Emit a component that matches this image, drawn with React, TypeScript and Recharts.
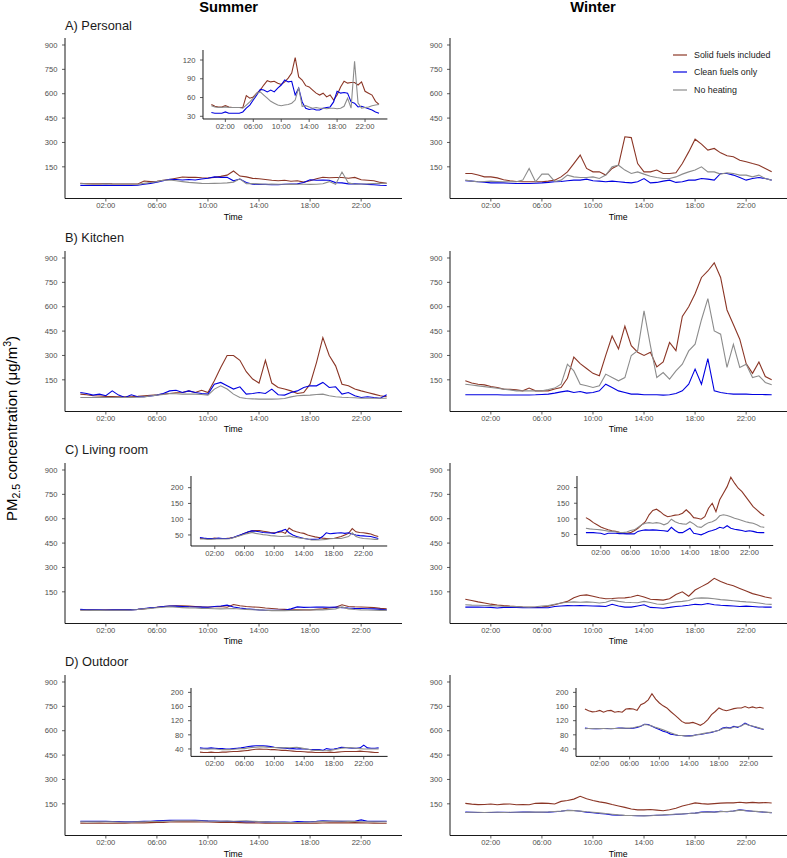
import { LineChart, Line, XAxis, YAxis, Legend } from 'recharts'

const FONT = '"Liberation Sans", Arial, Helvetica, sans-serif'

// half-hourly time points (hours since midnight)
const HOURS = [
  0, 0.5, 1, 1.5, 2, 2.5, 3, 3.5, 4, 4.5, 5, 5.5, 6, 6.5, 7, 7.5, 8, 8.5, 9, 9.5, 10, 10.5, 11, 11.5,
  12, 12.5, 13, 13.5, 14, 14.5, 15, 15.5, 16, 16.5, 17, 17.5, 18, 18.5, 19, 19.5, 20, 20.5, 21, 21.5,
  22, 22.5, 23, 23.5, 24,
]
const TIME_TICKS = [2, 6, 10, 14, 18, 22]
const MAIN_TICKS = [150, 300, 450, 600, 750, 900]
const INSET_TICKS_A = [30, 60, 90, 120]
const INSET_TICKS_C = [50, 100, 150, 200]
const INSET_TICKS_D = [40, 80, 120, 160, 200]

// A) Personal
const A_SUM_SOLID = [
  49, 46, 45, 45, 47, 45, 44, 44, 44, 44, 63, 59, 61, 67, 72, 80, 87, 85, 86, 83, 81, 85, 91, 99,
  124, 93, 88, 79, 77, 72, 67, 64, 67, 61, 64, 56, 64, 77, 86, 83, 84, 84, 80, 85, 70, 67, 64, 54, 49,
]
const A_SUM_CLEAN = [
  36, 35, 35, 35, 37, 35, 35, 35, 35, 37, 43, 48, 56, 64, 73, 72, 69, 72, 69, 75, 80, 88, 85, 86,
  64, 75, 53, 43, 41, 42, 40, 40, 43, 44, 45, 53, 70, 67, 68, 67, 53, 51, 45, 46, 44, 42, 40, 37, 35,
]
const A_SUM_NONE = [
  47, 45, 44, 44, 45, 44, 44, 44, 44, 43, 48, 53, 59, 67, 69, 64, 59, 54, 51, 48, 47, 48, 49, 51,
  56, 76, 46, 47, 45, 43, 44, 43, 43, 42, 43, 43, 42, 43, 46, 59, 43, 118, 51, 43, 44, 45, 47, 48, 49,
]
const A_WIN_SOLID = [
  109, 109, 100, 88, 88, 82, 70, 64, 60, 58, 58, 58, 58, 62, 68, 88, 119, 170, 222, 140, 119, 119, 99, 140,
  160, 335, 330, 170, 119, 119, 130, 109, 109, 113, 170, 242, 320, 290, 253, 263, 236, 218, 212, 191, 181, 170, 160, 140, 119,
]
const A_WIN_CLEAN = [
  64, 62, 58, 56, 51, 51, 51, 49, 47, 47, 47, 49, 51, 54, 58, 60, 64, 68, 68, 74, 64, 62, 58, 62,
  58, 54, 51, 58, 78, 51, 54, 62, 68, 54, 58, 68, 68, 78, 74, 68, 109, 109, 99, 84, 68, 78, 84, 78, 68,
]
const A_WIN_NONE = [
  68, 62, 58, 60, 62, 60, 58, 58, 58, 68, 140, 58, 105, 105, 60, 68, 99, 88, 84, 84, 88, 78, 99, 150,
  160, 130, 109, 119, 105, 92, 84, 78, 78, 88, 105, 119, 130, 150, 119, 119, 105, 113, 109, 99, 99, 88, 99, 78, 68,
]

// B) Kitchen
const B_SUM_SOLID = [
  62, 58, 52, 50, 48, 47, 46, 46, 46, 48, 52, 55, 58, 62, 66, 70, 72, 82, 72, 86, 72, 144, 226, 300,
  300, 270, 200, 155, 130, 270, 130, 103, 93, 82, 66, 72, 123, 256, 410, 300, 236, 123, 113, 93, 82, 72, 62, 52, 46,
]
const B_SUM_CLEAN = [
  72, 66, 56, 62, 52, 82, 56, 41, 58, 46, 46, 50, 56, 66, 82, 86, 72, 82, 72, 66, 62, 123, 134, 113,
  93, 107, 62, 66, 72, 66, 93, 58, 56, 72, 82, 103, 113, 113, 134, 103, 107, 62, 72, 52, 41, 46, 41, 37, 58,
]
const B_SUM_NONE = [
  41, 41, 41, 41, 41, 41, 41, 41, 41, 43, 45, 50, 56, 60, 66, 64, 62, 62, 62, 60, 56, 93, 113, 93,
  62, 41, 35, 33, 31, 31, 31, 32, 35, 45, 52, 54, 56, 60, 62, 52, 46, 43, 41, 40, 37, 37, 37, 37, 37,
]
const B_WIN_SOLID = [
  144, 130, 123, 119, 109, 103, 93, 91, 88, 82, 99, 82, 82, 82, 93, 103, 160, 290, 250, 220, 190, 175, 300, 420,
  340, 480, 360, 320, 300, 320, 230, 260, 380, 330, 540, 600, 680, 780, 820, 870, 780, 580, 490, 400, 250, 190, 260, 170, 150,
]
const B_WIN_CLEAN = [
  58, 58, 58, 58, 58, 58, 57, 57, 57, 57, 57, 58, 60, 62, 68, 76, 82, 72, 78, 68, 72, 82, 123, 103,
  82, 72, 62, 62, 58, 58, 58, 56, 58, 66, 82, 123, 216, 123, 280, 82, 72, 66, 62, 62, 62, 60, 60, 59, 58,
]
const B_WIN_NONE = [
  123, 118, 113, 108, 103, 98, 93, 88, 82, 82, 82, 82, 82, 90, 99, 123, 246, 205, 123, 113, 103, 113, 185, 164,
  144, 164, 300, 330, 574, 360, 164, 195, 154, 205, 246, 328, 369, 520, 650, 451, 431, 226, 369, 226, 246, 164, 175, 134, 120,
]

// C) Living room
const C_SUM_SOLID = [
  39, 39, 39, 38, 40, 39, 39, 39, 40, 42, 45, 50, 55, 59, 63, 64, 64, 62, 60, 58, 57, 58, 60, 55,
  72, 64, 60, 57, 55, 50, 47, 44, 42, 40, 39, 39, 39, 42, 45, 50, 55, 70, 60, 58, 57, 55, 53, 48, 45,
]
const C_SUM_CLEAN = [
  42, 40, 39, 39, 38, 40, 39, 39, 39, 42, 47, 51, 55, 60, 63, 62, 60, 58, 57, 56, 55, 60, 63, 68,
  57, 50, 45, 42, 39, 37, 36, 36, 37, 45, 57, 54, 55, 56, 57, 55, 57, 53, 50, 48, 47, 46, 45, 42, 39,
]
const C_SUM_NONE = [
  37, 37, 36, 36, 37, 37, 37, 37, 38, 41, 45, 48, 52, 55, 58, 55, 53, 51, 50, 48, 47, 46, 45, 46,
  47, 44, 42, 40, 39, 37, 34, 34, 34, 35, 36, 38, 39, 39, 39, 42, 45, 57, 45, 41, 39, 38, 37, 36, 36,
]
const C_WIN_SOLID = [
  104, 97, 88, 81, 74, 69, 65, 62, 60, 57, 55, 54, 56, 62, 70, 81, 91, 113, 127, 131, 123, 113, 107, 109,
  112, 113, 118, 129, 118, 104, 102, 99, 107, 134, 150, 123, 161, 182, 203, 233, 214, 198, 187, 171, 155, 139, 129, 118, 110,
]
const C_WIN_CLEAN = [
  56, 56, 56, 55, 54, 50, 54, 54, 54, 53, 53, 52, 52, 52, 60, 63, 65, 64, 65, 64, 63, 62, 60, 73,
  63, 56, 56, 63, 70, 54, 52, 49, 54, 60, 63, 67, 73, 70, 78, 70, 67, 65, 63, 60, 62, 60, 57, 56, 56,
]
const C_WIN_NONE = [
  70, 68, 67, 66, 65, 63, 61, 60, 59, 57, 56, 58, 63, 65, 73, 81, 86, 88, 86, 88, 86, 81, 86, 99,
  91, 86, 84, 83, 91, 84, 75, 73, 81, 88, 91, 97, 110, 113, 111, 107, 102, 99, 95, 91, 88, 86, 81, 75, 73,
]

// D) Outdoor
const D_SUM_SOLID = [
  31, 30, 30, 31, 30, 30, 31, 31, 32, 33, 33, 34, 35, 36, 38, 39, 40, 39, 39, 38, 38, 37, 36, 36,
  35, 34, 33, 33, 32, 31, 31, 30, 30, 30, 30, 31, 30, 31, 32, 33, 33, 33, 33, 34, 33, 32, 31, 30, 30,
]
const D_SUM_CLEAN = [
  43, 42, 42, 43, 42, 41, 41, 40, 40, 41, 42, 43, 45, 47, 48, 49, 49, 49, 48, 47, 45, 44, 43, 42,
  41, 41, 40, 41, 40, 39, 38, 38, 38, 36, 41, 39, 40, 42, 45, 44, 43, 42, 42, 43, 51, 43, 42, 42, 43,
]
const D_SUM_NONE = [
  40, 40, 39, 40, 40, 39, 38, 38, 38, 39, 40, 41, 41, 43, 44, 45, 46, 46, 45, 44, 44, 43, 43, 44,
  43, 44, 45, 43, 41, 39, 37, 36, 36, 35, 35, 36, 38, 40, 42, 43, 44, 43, 42, 41, 40, 40, 40, 40, 40,
]
const D_WIN_SOLID = [
  153, 148, 145, 146, 149, 144, 148, 149, 144, 146, 144, 153, 154, 153, 149, 165, 170, 179, 196, 181, 170, 162, 156, 146,
  137, 128, 118, 113, 113, 115, 111, 107, 113, 123, 137, 146, 156, 151, 148, 151, 154, 156, 156, 160, 156, 159, 156, 158, 155,
]
const D_WIN_CLEAN = [
  99, 98, 97, 97, 97, 98, 98, 97, 98, 99, 99, 98, 98, 99, 101, 104, 110, 109, 104, 99, 95, 90, 87, 82,
  80, 78, 78, 77, 77, 78, 80, 81, 83, 85, 87, 90, 93, 99, 101, 99, 104, 101, 106, 113, 108, 104, 101, 98, 95,
]
const D_WIN_NONE = [
  97, 98, 98, 97, 98, 98, 97, 98, 98, 98, 99, 99, 99, 100, 103, 105, 109, 108, 105, 101, 98, 94, 90, 86,
  82, 79, 78, 77, 76, 77, 80, 82, 84, 86, 88, 90, 93, 97, 100, 98, 102, 103, 105, 111, 107, 105, 102, 99, 96,
]

const SERIES = [
  { key: 'solid', name: 'Solid fuels included', color: '#8B3626' },
  { key: 'clean', name: 'Clean fuels only', color: '#0000E0' },
  { key: 'none', name: 'No heating', color: '#8C8C8C' },
]

const rows = (solid: number[], clean: number[], none: number[]) =>
  HOURS.map((t, i) => ({ t, solid: solid[i], clean: clean[i], none: none[i] }))

const fmtTime = (h: number) => `${h < 10 ? '0' : ''}${h}:00`

// layout (page pixels)
const COL_X = [64.7, 449.7]
const ROW_Y = [38.3, 250.6, 462.9, 675.2]
const PLOT_W = 337
const PLOT_H = 160.5
const MAIN_DOMAIN: [number, number] = [-45, 943]

function LegendBox({ payload }: any) {
  // keep the series order (Recharts sorts legend items by name)
  const items = [...(payload || [])].sort(
    (a: any, b: any) =>
      SERIES.findIndex((s) => s.name === a.value) - SERIES.findIndex((s) => s.name === b.value)
  )
  return (
    <div style={{ fontFamily: FONT, fontSize: 8.9, color: '#1a1a1a' }}>
      {items.map((p: any) => (
        <div key={p.value} style={{ display: 'flex', alignItems: 'center', height: 17.3, whiteSpace: 'nowrap' }}>
          <svg width={14} height={4} style={{ marginRight: 7 }}>
            <line x1={0} x2={14} y1={2} y2={2} stroke={p.color} strokeWidth={1.2} />
          </svg>
          <span>{p.value}</span>
        </div>
      ))}
    </div>
  )
}

interface PanelProps {
  x: number
  y: number
  w: number
  h: number
  data: any[]
  domain: [number, number]
  ticks: number[]
  legend?: boolean
}

function Panel({ x, y, w, h, data, domain, ticks, legend }: PanelProps) {
  const YW = 40
  const TOP = 4
  const XH = 16
  const RIGHT = 2
  const tickStyle = { fontSize: 7.6, fill: '#4d4d4d', fontFamily: FONT }
  return (
    <div style={{ position: 'absolute', left: x - YW, top: y - TOP }}>
      <LineChart
        width={w + YW + RIGHT}
        height={h + TOP + XH}
        data={data}
        margin={{ top: TOP, right: RIGHT, bottom: 0, left: 0 }}
      >
        <XAxis
          type="number"
          dataKey="t"
          domain={[-1.2, 25.2]}
          ticks={TIME_TICKS}
          interval={0}
          tickFormatter={fmtTime}
          height={XH}
          tick={tickStyle}
          tickSize={3}
          tickMargin={1.5}
          axisLine={{ stroke: '#000', strokeWidth: 0.9 }}
          tickLine={{ stroke: '#333', strokeWidth: 0.8 }}
        />
        <YAxis
          type="number"
          domain={domain}
          ticks={ticks}
          interval={0}
          allowDataOverflow
          width={YW}
          tick={tickStyle}
          tickSize={3}
          tickMargin={4.5}
          axisLine={{ stroke: '#000', strokeWidth: 0.9 }}
          tickLine={{ stroke: '#333', strokeWidth: 0.8 }}
        />
        {legend && (
          <Legend
            layout="vertical"
            align="center"
            verticalAlign="middle"
            content={(p: any) => <LegendBox payload={p.payload} />}
            wrapperStyle={{ left: 263.3, top: 12, width: 'auto', height: 'auto' }}
          />
        )}
        {SERIES.map((s) => (
          <Line
            key={s.key}
            type="linear"
            dataKey={s.key}
            name={s.name}
            stroke={s.color}
            strokeWidth={1.1}
            dot={false}
            activeDot={false}
            isAnimationActive={false}
          />
        ))}
      </LineChart>
    </div>
  )
}

export default function App() {
  const aSum = rows(A_SUM_SOLID, A_SUM_CLEAN, A_SUM_NONE)
  const aWin = rows(A_WIN_SOLID, A_WIN_CLEAN, A_WIN_NONE)
  const bSum = rows(B_SUM_SOLID, B_SUM_CLEAN, B_SUM_NONE)
  const bWin = rows(B_WIN_SOLID, B_WIN_CLEAN, B_WIN_NONE)
  const cSum = rows(C_SUM_SOLID, C_SUM_CLEAN, C_SUM_NONE)
  const cWin = rows(C_WIN_SOLID, C_WIN_CLEAN, C_WIN_NONE)
  const dSum = rows(D_SUM_SOLID, D_SUM_CLEAN, D_SUM_NONE)
  const dWin = rows(D_WIN_SOLID, D_WIN_CLEAN, D_WIN_NONE)

  const titles = ['A) Personal', 'B) Kitchen', 'C) Living room', 'D) Outdoor']

  return (
    <div
      style={{
        position: 'absolute',
        left: 0,
        top: 0,
        width: 787,
        height: 858,
        overflow: 'hidden',
        background: '#fff',
        fontFamily: FONT,
      }}
    >
      <svg width={787} height={858} style={{ position: 'absolute', left: 0, top: 0 }}>
        <text x={228.7} y={11.5} textAnchor="middle" fontSize={14.7} fontWeight="bold" fill="#000" fontFamily={FONT}>
          Summer
        </text>
        <text x={593} y={11.5} textAnchor="middle" fontSize={14.7} fontWeight="bold" fill="#000" fontFamily={FONT}>
          Winter
        </text>
        {titles.map((t, i) => (
          <text key={t} x={65} y={ROW_Y[i] - 8.8} fontSize={12.8} fill="#1a1a1a" fontFamily={FONT}>
            {t}
          </text>
        ))}
        {ROW_Y.map((ry, i) =>
          COL_X.map((cx, j) => (
            <text
              key={`time-${i}-${j}`}
              x={cx + PLOT_W / 2}
              y={ry + PLOT_H + 20.8}
              textAnchor="middle"
              fontSize={8.7}
              fill="#000"
              fontFamily={FONT}
            >
              Time
            </text>
          ))
        )}
        <text transform="translate(16.5,428.5) rotate(-90)" textAnchor="middle" fontSize={15} fill="#000" fontFamily={FONT}>
          PM
          <tspan fontSize={10.5} dy={3}>
            2.5
          </tspan>
          <tspan fontSize={15} dy={-3}>
            {' concentration (μg/m'}
          </tspan>
          <tspan fontSize={10.5} dy={-6}>
            3
          </tspan>
          <tspan fontSize={15} dy={6}>
            )
          </tspan>
        </text>
      </svg>

      {/* main panels */}
      <Panel x={COL_X[0]} y={ROW_Y[0]} w={PLOT_W} h={PLOT_H} data={aSum} domain={MAIN_DOMAIN} ticks={MAIN_TICKS} />
      <Panel x={COL_X[1]} y={ROW_Y[0]} w={PLOT_W} h={PLOT_H} data={aWin} domain={MAIN_DOMAIN} ticks={MAIN_TICKS} legend />
      <Panel x={COL_X[0]} y={ROW_Y[1]} w={PLOT_W} h={PLOT_H} data={bSum} domain={MAIN_DOMAIN} ticks={MAIN_TICKS} />
      <Panel x={COL_X[1]} y={ROW_Y[1]} w={PLOT_W} h={PLOT_H} data={bWin} domain={MAIN_DOMAIN} ticks={MAIN_TICKS} />
      <Panel x={COL_X[0]} y={ROW_Y[2]} w={PLOT_W} h={PLOT_H} data={cSum} domain={MAIN_DOMAIN} ticks={MAIN_TICKS} />
      <Panel x={COL_X[1]} y={ROW_Y[2]} w={PLOT_W} h={PLOT_H} data={cWin} domain={MAIN_DOMAIN} ticks={MAIN_TICKS} />
      <Panel x={COL_X[0]} y={ROW_Y[3]} w={PLOT_W} h={PLOT_H} data={dSum} domain={MAIN_DOMAIN} ticks={MAIN_TICKS} />
      <Panel x={COL_X[1]} y={ROW_Y[3]} w={PLOT_W} h={PLOT_H} data={dWin} domain={MAIN_DOMAIN} ticks={MAIN_TICKS} />

      {/* insets */}
      <Panel x={203.3} y={50} w={184.4} h={69} data={aSum} domain={[25.7, 136]} ticks={INSET_TICKS_A} />
      <Panel x={191} y={476} w={196.2} h={70} data={cSum} domain={[15, 237]} ticks={INSET_TICKS_C} />
      <Panel x={576.8} y={475.7} w={196.2} h={69.5} data={cWin} domain={[15, 237]} ticks={INSET_TICKS_C} />
      <Panel x={190.7} y={688.3} w={196.6} h={68.4} data={dSum} domain={[19, 212.4]} ticks={INSET_TICKS_D} />
      <Panel x={575.7} y={688.3} w={196.6} h={68.4} data={dWin} domain={[19, 212.4]} ticks={INSET_TICKS_D} />
    </div>
  )
}
